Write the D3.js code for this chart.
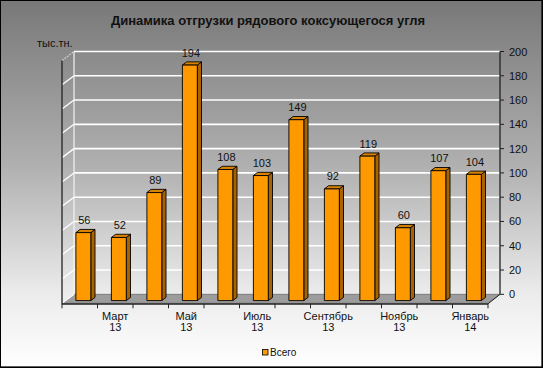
<!DOCTYPE html>
<html>
<head>
<meta charset="utf-8">
<script src="https://cdn.jsdelivr.net/npm/d3@7"></script>
<style>
  html, body { margin: 0; padding: 0; background: #fff; }
  svg { display: block; font-family: "Liberation Sans", Arial, sans-serif; }
</style>
</head>
<body>
<div id="chart"></div>
<script>
// chart data
const months = ['Февраль 13', 'Март 13', 'Апрель 13', 'Май 13', 'Июнь 13', 'Июль 13',
                'Август 13', 'Сентябрь 13', 'Октябрь 13', 'Ноябрь 13', 'Декабрь 13', 'Январь 14'];
const shownLabels = ['', 'Март|13', '', 'Май|13', '', 'Июль|13',
                     '', 'Сентябрь|13', '', 'Ноябрь|13', '', 'Январь|14'];
const totals = [56, 52, 89, 194, 108, 103, 149, 92, 119, 60, 107, 104];
const yTicks = [0, 20, 40, 60, 80, 100, 120, 140, 160, 180, 200];
const title = 'Динамика отгрузки рядового коксующегося угля';
const unitLabel = 'тыс.тн.';
const seriesName = 'Всего';

const W = 543, H = 368;
const depth = { dx: 12, dy: -9 };       // back wall offset from front
const frontFloor = 303.3;

const x = d3.scaleBand().domain(months).range([62, 488]).paddingInner(0.58).paddingOuter(0.29);
const xTicks = d3.scaleLinear().domain([0, months.length]).range([62, 488]);
const y = d3.scaleLinear().domain([0, 200]).range([frontFloor + depth.dy, 51.5]);

const svg = d3.select('#chart').append('svg')
  .attr('width', W).attr('height', H);

const defs = svg.append('defs');
const bg = defs.append('linearGradient').attr('id', 'bg')
  .attr('x1', 0).attr('y1', 0).attr('x2', 0).attr('y2', 1);
bg.append('stop').attr('offset', '0%').attr('stop-color', '#787878');
bg.append('stop').attr('offset', '45%').attr('stop-color', '#b0b0b0');
bg.append('stop').attr('offset', '80%').attr('stop-color', '#ececec');
bg.append('stop').attr('offset', '100%').attr('stop-color', '#ffffff');

svg.append('rect').attr('width', W).attr('height', H).attr('fill', 'url(#bg)');

// title + unit
svg.append('text').attr('x', 268).attr('y', 24.5).attr('text-anchor', 'middle')
  .attr('font-size', 13).attr('font-weight', 'bold').attr('fill', '#111').text(title);
svg.append('text').attr('x', 37).attr('y', 46.5).attr('font-size', 11).attr('fill', '#111').text(unitLabel);

const x0 = 62, x1 = 488;
const bx0 = x0 + depth.dx, bx1 = x1 + depth.dx;

// floor
svg.append('path')
  .attr('d', `M${x0},${frontFloor}L${bx0},${frontFloor + depth.dy}L${bx1},${frontFloor + depth.dy}L${x1},${frontFloor}Z`)
  .attr('fill', '#9c9c9c').attr('stroke', '#555').attr('stroke-width', 0.6);

// gridlines on back and side walls
const grid = svg.append('g');
yTicks.forEach(t => {
  grid.append('line').attr('x1', bx0).attr('x2', bx1).attr('y1', y(t)).attr('y2', y(t))
    .attr('stroke', '#fff').attr('stroke-width', t === 0 ? 0 : 1.6);
  grid.append('line').attr('x1', x0).attr('x2', bx0).attr('y1', y(t) - depth.dy).attr('y2', y(t))
    .attr('stroke', t === 200 ? '#ccc' : '#fff').attr('stroke-width', 1.3)
    .attr('stroke-dasharray', t === 200 ? '2,1' : null);
});
grid.append('line').attr('x1', bx0).attr('x2', bx0).attr('y1', y(200)).attr('y2', y(0))
  .attr('stroke', '#f4f4f4').attr('stroke-width', 1.2);

// left front axis line
svg.append('line').attr('x1', x0).attr('x2', x0).attr('y1', y(200) - depth.dy).attr('y2', frontFloor + 1)
  .attr('stroke', '#222').attr('stroke-width', 1.3);

// right axis
const rAxis = svg.append('g');
rAxis.append('line').attr('x1', bx1).attr('x2', bx1).attr('y1', y(200)).attr('y2', y(0))
  .attr('stroke', '#222').attr('stroke-width', 1.3);
yTicks.forEach(t => {
  rAxis.append('line').attr('x1', bx1).attr('x2', bx1 + 4).attr('y1', y(t)).attr('y2', y(t))
    .attr('stroke', '#222');
  rAxis.append('text').attr('x', bx1 + 9).attr('y', y(t) + 4).attr('font-size', 11)
    .attr('fill', '#111').text(t);
});
svg.append('line').attr('x1', x1).attr('y1', frontFloor + 0.5).attr('x2', bx1).attr('y2', y(0))
  .attr('stroke', '#222').attr('stroke-width', 1);

// bottom axis
const bAxis = svg.append('g');
bAxis.append('line').attr('x1', x0).attr('x2', x1).attr('y1', frontFloor + 0.7).attr('y2', frontFloor + 0.7)
  .attr('stroke', '#222').attr('stroke-width', 1.3);
d3.range(months.length + 1).forEach(i => {
  bAxis.append('line').attr('x1', xTicks(i)).attr('x2', xTicks(i))
    .attr('y1', frontFloor + 0.7).attr('y2', frontFloor + 5).attr('stroke', '#222');
});
months.forEach((m, i) => {
  if (!shownLabels[i]) return;
  const parts = shownLabels[i].split('|');
  const cx = x(m) + x.bandwidth() / 2;
  const t = bAxis.append('text').attr('text-anchor', 'middle').attr('font-size', 11).attr('fill', '#111');
  t.append('tspan').attr('x', cx).attr('y', 319.5).text(parts[0]);
  t.append('tspan').attr('x', cx).attr('y', 330.5).text(parts[1]);
});

// bars
const f = 0.3;                        // depth position of bar front face
const fo = { dx: depth.dx * f, dy: depth.dy * f };
const bd = { dx: 4.2, dy: -3.2 };     // bar own depth
const bars = svg.append('g');
months.forEach((m, i) => {
  const v = totals[i];
  const left = x(m) + fo.dx, w = x.bandwidth();
  const base = y(0) - depth.dy + fo.dy;
  const top = base - (y(0) - y(v));
  const g = bars.append('g').attr('stroke', '#000').attr('stroke-width', 0.9).attr('stroke-linejoin', 'round');
  g.append('path')
    .attr('d', `M${left + w},${base}L${left + w + bd.dx},${base + bd.dy}L${left + w + bd.dx},${top + bd.dy}L${left + w},${top}Z`)
    .attr('fill', '#a86300');
  g.append('path')
    .attr('d', `M${left},${top}L${left + bd.dx},${top + bd.dy}L${left + w + bd.dx},${top + bd.dy}L${left + w},${top}Z`)
    .attr('fill', '#d98200');
  g.append('rect').attr('x', left).attr('y', top).attr('width', w).attr('height', base - top)
    .attr('fill', '#ff9900');
  bars.append('text').attr('x', left + w / 2 + 1).attr('y', top - 8.5).attr('text-anchor', 'middle')
    .attr('font-size', 11).attr('fill', '#111').text(v);
});

// legend
const lg = svg.append('g');
lg.append('rect').attr('x', 262.5).attr('y', 349.5).attr('width', 5.5).attr('height', 5.5)
  .attr('fill', '#ff9900').attr('stroke', '#000').attr('stroke-width', 0.8);
lg.append('text').attr('x', 270).attr('y', 356).attr('font-size', 10).attr('fill', '#111').text(seriesName);

// outer border
svg.append('rect').attr('x', 0.5).attr('y', 0.5).attr('width', W - 1.5).attr('height', H - 1.5)
  .attr('fill', 'none').attr('stroke', '#000').attr('stroke-width', 1);
svg.append('line').attr('x1', 0).attr('x2', W).attr('y1', H - 0.5).attr('y2', H - 0.5).attr('stroke', '#000').attr('stroke-width', 1.5);
svg.append('line').attr('x1', W - 0.5).attr('x2', W - 0.5).attr('y1', 0).attr('y2', H).attr('stroke', '#000').attr('stroke-width', 1.5);
</script>
</body>
</html>
